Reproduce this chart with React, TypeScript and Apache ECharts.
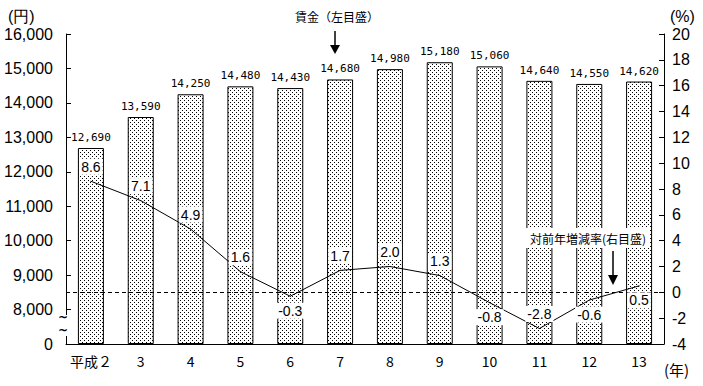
import React, { useEffect, useRef } from "react";
import * as echarts from "echarts";

const categories = ["平成２", "3", "4", "5", "6", "7", "8", "9", "10", "11", "12", "13"];
const wages = [12690, 13590, 14250, 14480, 14430, 14680, 14980, 15180, 15060, 14640, 14550, 14620];
const rates = [8.6, 7.1, 4.9, 1.6, -0.3, 1.7, 2.0, 1.3, -0.8, -2.8, -0.6, 0.5];
const rateLabelPos = ["top", "top", "top", "top", "bottom", "top", "top", "top", "bottom", "top", "bottom", "bottom"];
const leftTicks = [0, 8000, 9000, 10000, 11000, 12000, 13000, 14000, 15000, 16000];
const BREAK_OFFSET = 7000; // values above 8,000 are shifted down to follow the axis break

const fmt = (n: number) => n.toLocaleString("en-US");
const toAxis = (v: number) => (v >= 8000 ? v - BREAK_OFFSET : v / 8);

export default function App() {
  const ref = useRef<HTMLDivElement>(null);
  useEffect(() => {
    if (!ref.current) return;
    const chart = echarts.init(ref.current, undefined, { renderer: "svg" });
    const c = document.createElement("canvas");
    c.width = 4;
    c.height = 4;
    const ctx = c.getContext("2d")!;
    ctx.fillStyle = "#ffffff";
    ctx.fillRect(0, 0, 4, 4);
    ctx.fillStyle = "#000000";
    ctx.fillRect(0, 0, 1, 1);
    ctx.fillRect(2, 2, 1, 1);

    const tickFont = { fontFamily: "Liberation Sans Narrow, Liberation Sans, sans-serif", fontSize: 16, color: "#000" };

    const lineLabel = {
      show: true,
      distance: 6,
      fontFamily: "Liberation Sans, sans-serif",
      fontSize: 14,
      color: "#000",
      backgroundColor: "#fff",
      padding: [1, 2],
      formatter: (p: any) => rates[p.dataIndex].toFixed(1),
    };

    chart.setOption({
      animation: false,
      backgroundColor: "#fff",
      grid: { left: 66, right: 39, top: 34, bottom: 42 },
      xAxis: {
        type: "category",
        data: categories,
        axisLine: { lineStyle: { color: "#000", width: 1 } },
        axisTick: { show: false },
        axisLabel: { interval: 0, fontFamily: "Noto Sans CJK JP, sans-serif", fontSize: 14, color: "#000", margin: 10 },
      },
      yAxis: [
        {
          type: "value",
          min: 0,
          max: 9000,
          interval: 1000,
          splitLine: { show: false },
          axisLine: { show: true, lineStyle: { color: "#000", width: 1 } },
          axisTick: { show: true, inside: true, length: 5, lineStyle: { color: "#000" } },
          axisLabel: {
            ...tickFont,
            margin: 13,
            formatter: (v: number) => {
              const idx = Math.round(v / 1000);
              return fmt(leftTicks[idx]);
            },
          },
        },
        {
          type: "value",
          min: -4,
          max: 20,
          interval: 2,
          splitLine: { show: false },
          axisLine: { show: true, lineStyle: { color: "#000", width: 1 } },
          axisTick: { show: true, inside: true, length: 5, lineStyle: { color: "#000" } },
          axisLabel: { ...tickFont, margin: 8 },
        },
      ],
      series: [
        {
          type: "bar",
          yAxisIndex: 0,
          data: wages.map((w) => toAxis(w)),
          barWidth: 26,
          itemStyle: {
            color: { image: c, repeat: "repeat" },
            borderColor: "#000",
            borderWidth: 1,
          },
          label: {
            show: true,
            position: "top",
            distance: 5,
            fontFamily: "DejaVu Sans Mono, monospace",
            fontSize: 11,
            color: "#000",
            formatter: (p: any) => fmt(wages[p.dataIndex]),
          },
          z: 2,
        },
        {
          type: "line",
          yAxisIndex: 1,
          data: rates.map((r, i) => ({
            value: r,
            label: { ...lineLabel, position: rateLabelPos[i] },
          })),
          symbol: "circle",
          symbolSize: 1,
          showSymbol: true,
          itemStyle: { color: "#000" },
          lineStyle: { color: "#000", width: 1 },
          label: lineLabel,
          labelLayout: { hideOverlap: false },
          markLine: {
            silent: true,
            symbol: "none",
            label: { show: false },
            lineStyle: { color: "#000", type: [4, 3], width: 1 },
            data: [{ yAxis: 0 }],
          },
          z: 5,
        },
      ],
      graphic: [
        { type: "text", left: 8, top: 8, style: { text: "(円)", font: "16px 'Liberation Sans', sans-serif", fill: "#000" } },
        { type: "text", left: 670, top: 8, style: { text: "(%)", font: "16px 'Liberation Sans', sans-serif", fill: "#000" } },
        { type: "text", left: 664, top: 362, style: { text: "(年)", font: "15px 'Noto Sans CJK JP', sans-serif", fill: "#000" } },
        // axis break
        { type: "rect", shape: { x: 60, y: 315, width: 12, height: 21 }, style: { fill: "#fff" }, z: 100 },
        { type: "text", x: 58, y: 311, z: 101, style: { text: "~", font: "bold 12px 'DejaVu Sans', sans-serif", fill: "#000" } },
        { type: "text", x: 58, y: 324, z: 101, style: { text: "~", font: "bold 12px 'DejaVu Sans', sans-serif", fill: "#000" } },
        // wage annotation
        {
          type: "text", x: 337, y: 16, z: 100,
          style: { text: "賃金（左目盛）", font: "12px 'Noto Sans CJK JP', sans-serif", fill: "#000", align: "center", verticalAlign: "middle" },
        },
        { type: "line", shape: { x1: 335, y1: 31, x2: 335, y2: 46 }, style: { stroke: "#000", lineWidth: 1.5 }, z: 100 },
        { type: "polygon", shape: { points: [[330, 45], [340, 45], [335, 54]] }, style: { fill: "#000" }, z: 100 },
        // rate annotation
        {
          type: "text", x: 588, y: 238, z: 100,
          style: {
            text: "対前年増減率(右目盛)", font: "12px 'Noto Sans CJK JP', sans-serif", fill: "#000",
            align: "center", verticalAlign: "middle", backgroundColor: "#fff", padding: [4, 4],
          },
        },
        { type: "line", shape: { x1: 613, y1: 251, x2: 613, y2: 276 }, style: { stroke: "#000", lineWidth: 1.5 }, z: 100 },
        { type: "polygon", shape: { points: [[608, 275], [618, 275], [613, 285]] }, style: { fill: "#000" }, z: 100 },
      ],
    });
    return () => chart.dispose();
  }, []);
  return <div ref={ref} style={{ width: 703, height: 386, position: "absolute", left: 0, top: 0 }} />;
}
